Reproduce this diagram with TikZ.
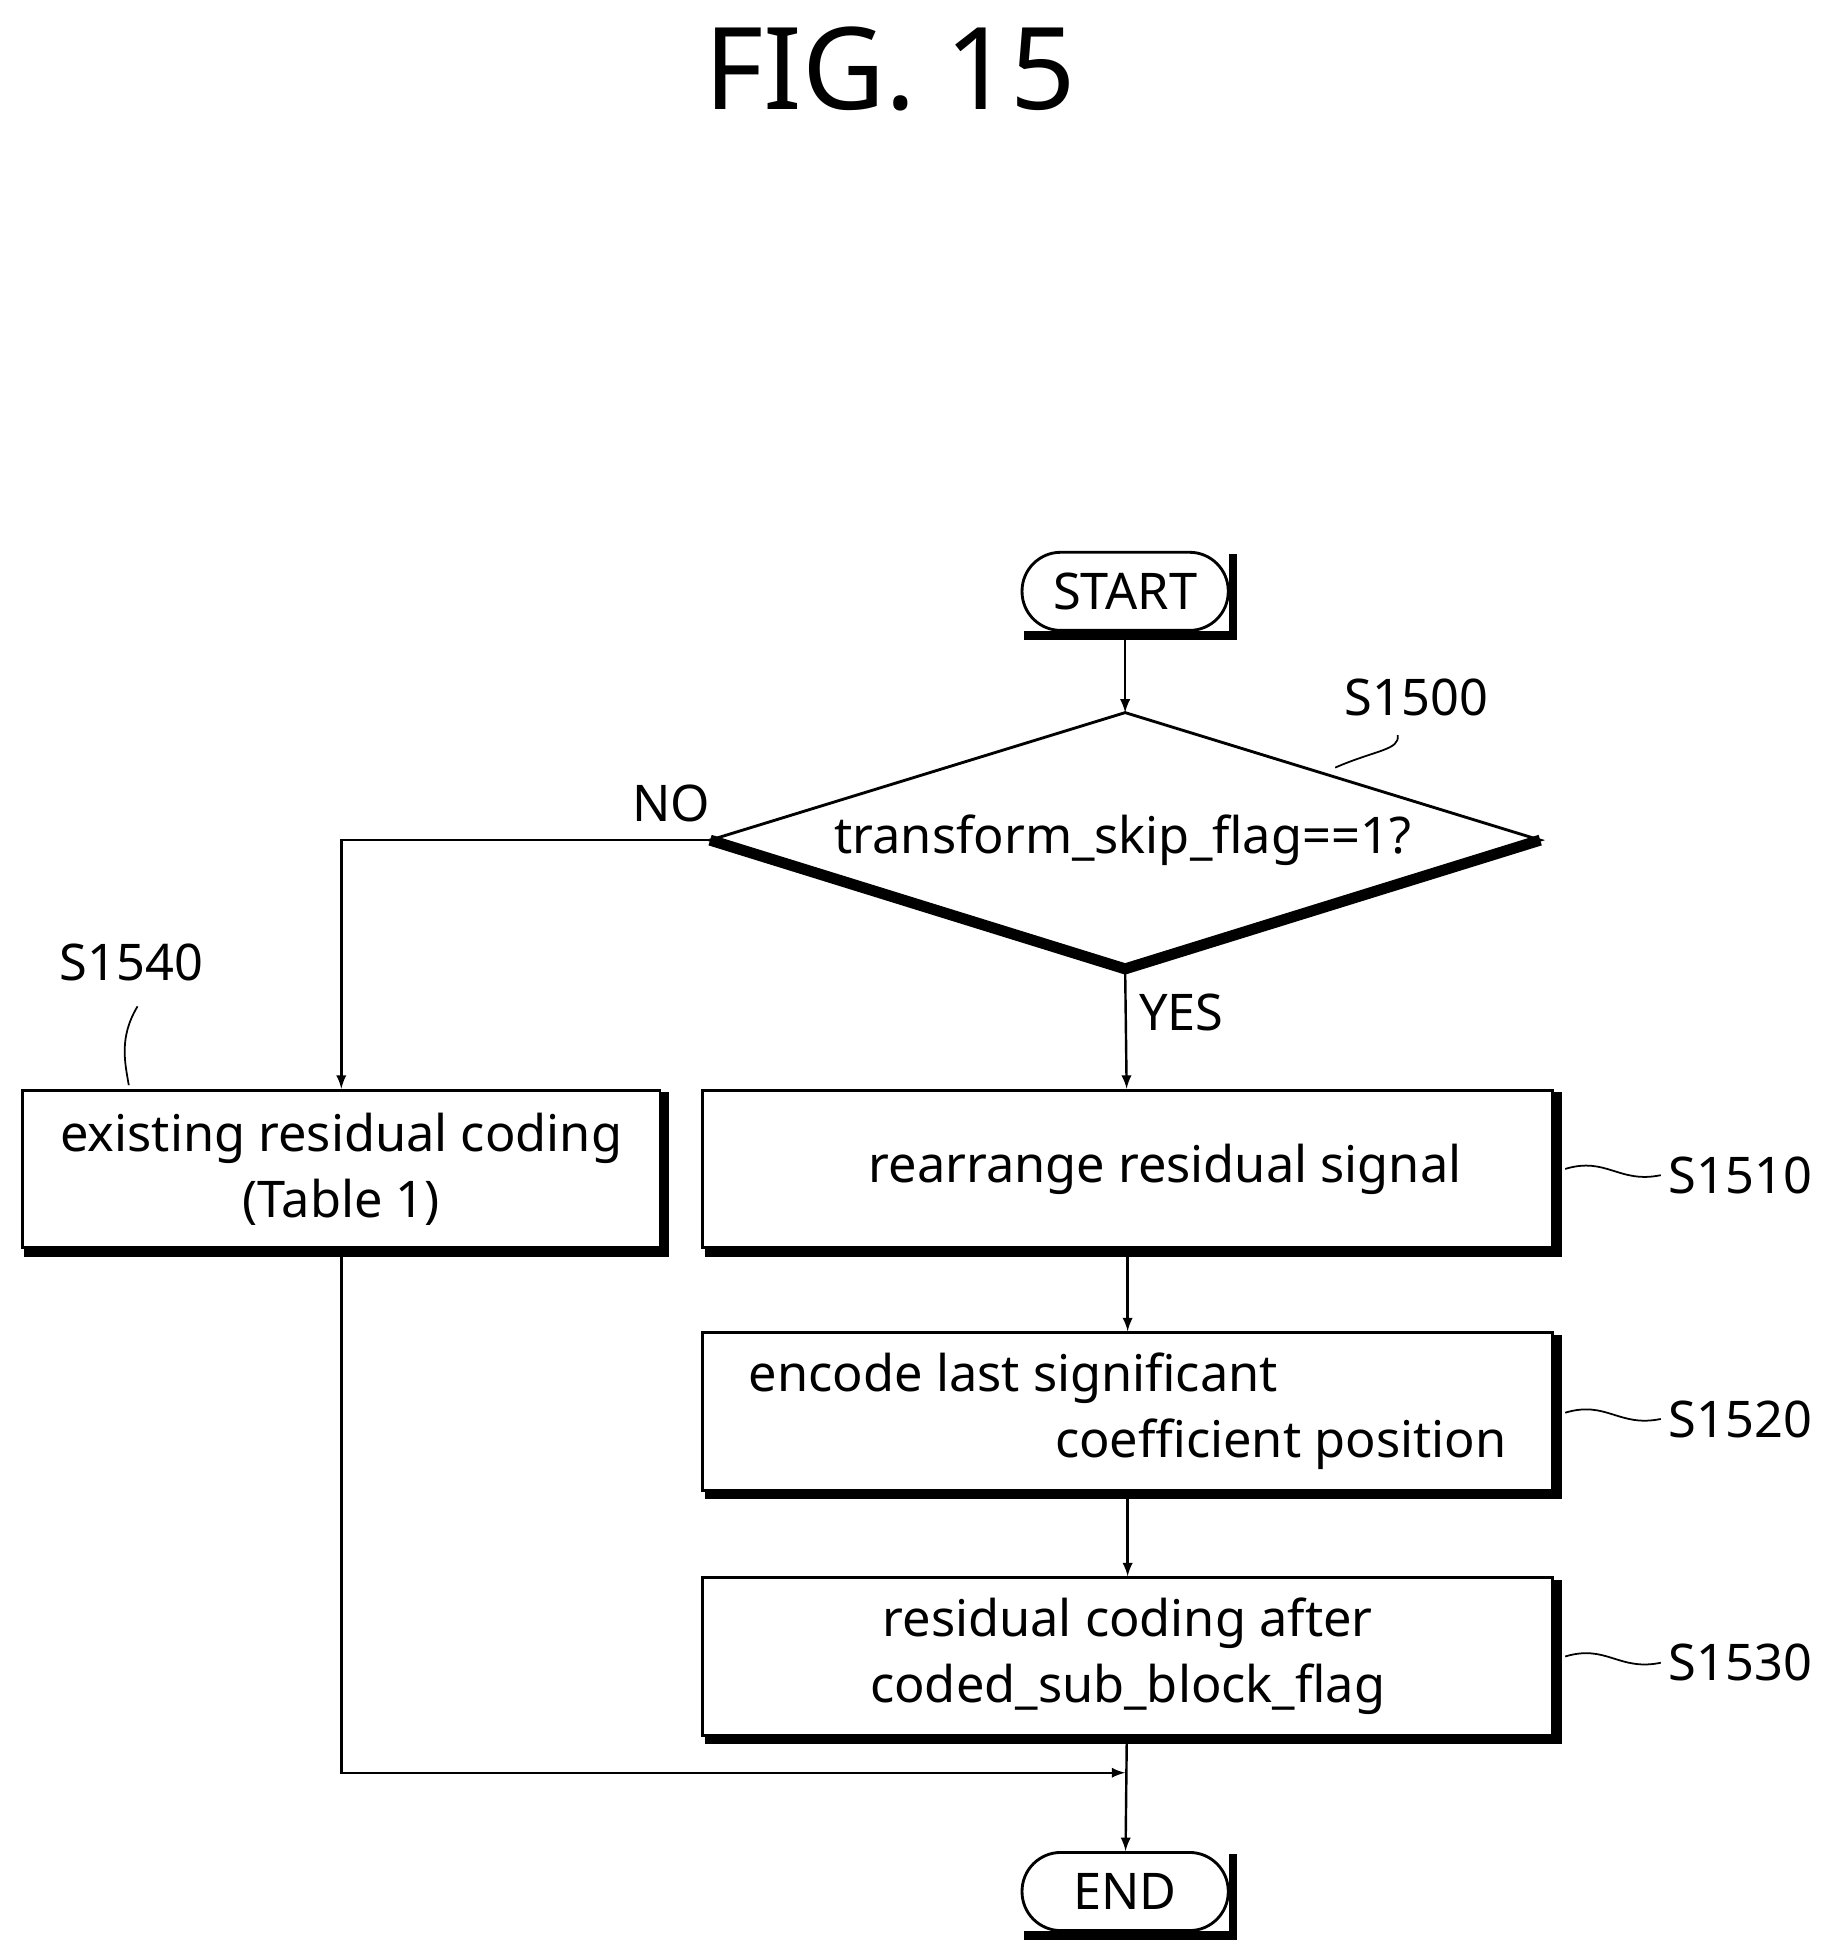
\documentclass[tikz,border=0pt]{standalone}
\usepackage{fontspec}
\setmainfont{Noto Sans}
\usetikzlibrary{shapes.geometric, arrows, positioning}

\begin{document}
\begin{tikzpicture}[
    x=0.02cm, y=-0.02cm,
    every node/.style={font=\fontsize{23}{30}\selectfont},
    box/.style={rectangle, draw, line width=1.3pt, minimum width=13.6cm,
                minimum height=2.52cm, align=center, inner sep=2pt},
    term/.style={rectangle, draw, line width=1.3pt, rounded corners=0.62cm,
                 minimum width=3.3cm, minimum height=1.25cm},
    shade/.style={line width=4pt},
    arrow/.style={->, >=latex, line width=1.1pt},
    lead/.style={line width=0.8pt}
]
\useasboundingbox (0,0) rectangle (1466,1563);

\node[font=\fontsize{52}{60}\selectfont] (title) at (712,55) {FIG. 15};

% terminals
\node[term] (start) at (900,473) {START};
\node[term] (stop) at (900,1513) {END};

% decision
\coordinate (dtop) at (900,570);
\coordinate (dleft) at (568,672);
\coordinate (dright) at (1232,672);
\coordinate (dbot) at (900,775);
\draw[line width=1.3pt] (dleft) -- (dtop) -- (dright) -- (dbot) -- cycle;
\draw[line width=5pt] (dleft) -- (dbot) -- (dright);
\node (cond) at (898,672) {transform\_skip\_flag==1?};

% process boxes
\node[box, minimum width=10.2cm] (exist) at (273,935)
    {existing residual coding\\(Table 1)};
\node[box] (rearr) at (902,935) {\hspace{1.2cm}rearrange residual signal};
\node[box, align=left] (enc) at (902,1129)
    {encode last significant\\\hspace{4.9cm}coefficient position};
\node[box] (resid) at (902,1325) {residual coding after\\coded\_sub\_block\_flag};

\foreach \n in {start, stop, exist, rearr, enc, resid}
    \draw[shade] ([xshift=1.5pt,yshift=-1.5pt]\n.south west)
        -- ([xshift=1.5pt,yshift=-1.5pt]\n.south east)
        -- ([xshift=1.5pt,yshift=-1.5pt]\n.north east);

% connectors
\draw[arrow] (start) -- (dtop);
\draw[arrow] (dbot) -- (rearr);
\draw[arrow] (rearr) -- (enc);
\draw[arrow] (enc) -- (resid);
\draw[arrow] (resid) -- (stop);
\draw[arrow] (dleft) -| (exist);
\coordinate (join) at (900,1418);
\draw[arrow] (exist) |- (join);

\node (no) at (537,643) {NO};
\node (yes) at (945,810) {YES};

% step labels
\node (l1500) at (1133,558) {S1500};
\node (l1540) at (105,770) {S1540};
\node (l1510) at (1392,940) {S1510};
\node (l1520) at (1392,1135) {S1520};
\node (l1530) at (1392,1330) {S1530};
\draw[lead] (1068,614) .. controls (1100,600) and (1120,600) .. (1118,588);
\draw[lead] (110,805) .. controls (95,830) and (100,850) .. (103,868);
\foreach \y/\n in {935/l1510, 1130/l1520, 1325/l1530}
    \draw[lead] (1252,\y) .. controls (1285,\y-10) and (1295,\y+12) .. (\n.west);
\end{tikzpicture}
\end{document}
